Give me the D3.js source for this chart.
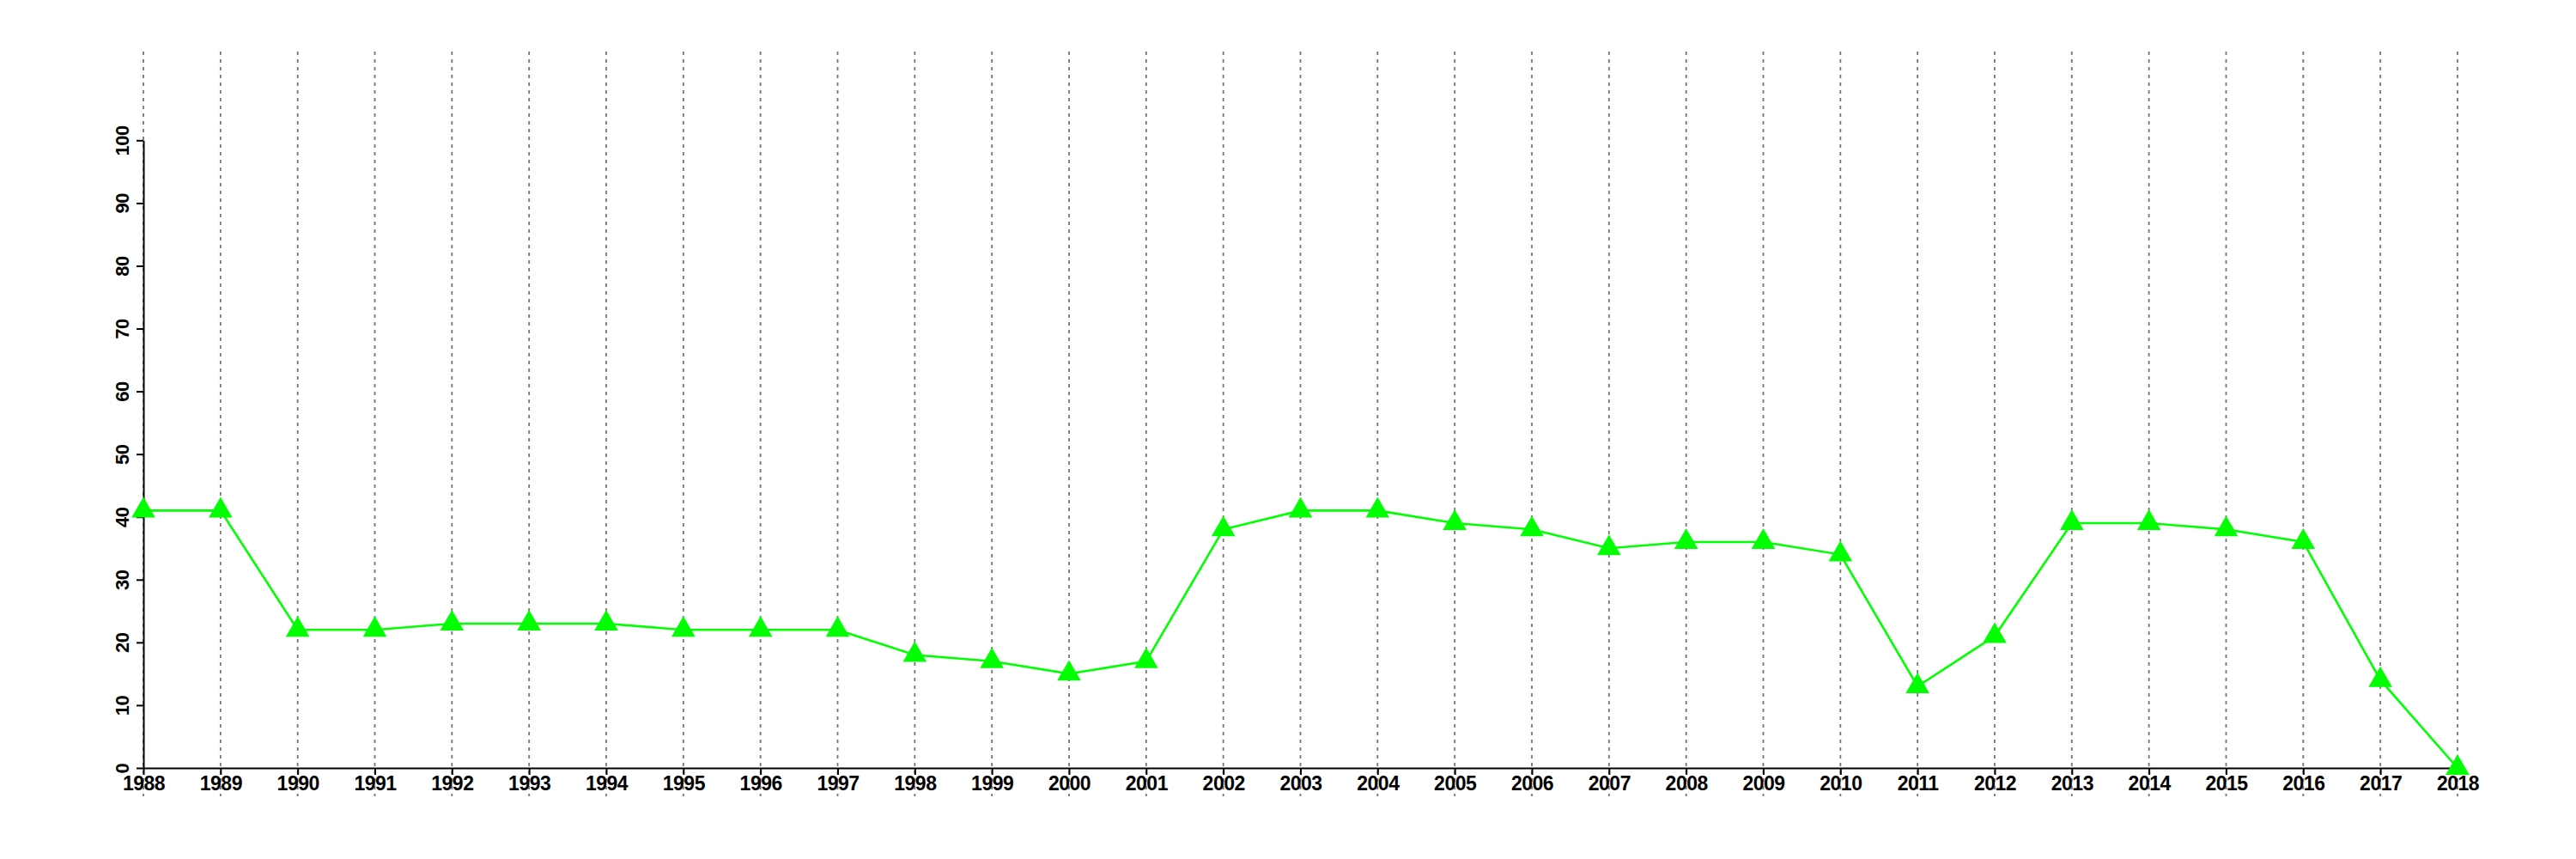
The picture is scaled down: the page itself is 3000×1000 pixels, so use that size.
<!DOCTYPE html>
<html>
<head>
<meta charset="utf-8">
<script src="https://cdn.jsdelivr.net/npm/d3@7"></script>
<style>
  html, body { margin: 0; padding: 0; background: #fff; }
  svg { display: block; }
  .tick text { font-family: "Liberation Sans", Arial, Helvetica, sans-serif; font-weight: bold; fill: #000; letter-spacing: -0.5px; }
  .xax .tick text { font-size: 23px; }
  .yax .tick text { font-size: 22px; }
</style>
</head>
<body>
<svg id="chart" width="3000" height="1000"></svg>
<script>
const years = [1988,1989,1990,1991,1992,1993,1994,1995,1996,1997,1998,1999,2000,2001,2002,2003,2004,2005,2006,2007,2008,2009,2010,2011,2012,2013,2014,2015,2016,2017,2018];
const values = [41,41,22,22,23,23,23,22,22,22,18,17,15,17,38,41,41,39,38,35,36,36,34,13,21,39,39,38,36,14,0];
const yTicks = [0,10,20,30,40,50,60,70,80,90,100];

const svg = d3.select("#chart");
const x = d3.scaleLinear().domain([1988, 2018]).range([167, 2862]);
const y = d3.scaleLinear().domain([0, 100]).range([894, 163.3]);

// vertical dotted grid lines
svg.append("g").selectAll("line").data(years).join("line")
  .attr("x1", d => x(d)).attr("x2", d => x(d))
  .attr("y1", 60).attr("y2", 927)
  .attr("stroke", "#777").attr("stroke-width", 1.8)
  .attr("stroke-dasharray", "4 5");

// y axis
const yAxis = svg.append("g").attr("class", "yax").attr("transform", `translate(${x(1988)},0)`)
  .call(d3.axisLeft(y).tickValues(yTicks).tickSize(8).tickSizeOuter(0).tickFormat(d3.format("d")));
yAxis.select(".domain").attr("stroke", "#000").attr("stroke-width", 2);
yAxis.selectAll(".tick line").attr("stroke", "#000").attr("stroke-width", 2);
yAxis.selectAll(".tick text")
  .attr("x", 0).attr("y", -17).attr("dy", 0)
  .attr("transform", "rotate(-90)")
  .attr("text-anchor", "middle");

// x axis
const xAxis = svg.append("g").attr("class", "xax").attr("transform", `translate(0,${y(0)})`)
  .call(d3.axisBottom(x).tickValues(years).tickSize(8).tickSizeOuter(0).tickFormat(d3.format("d")));
xAxis.select(".domain").attr("stroke", "#000").attr("stroke-width", 2);
xAxis.selectAll(".tick line").attr("stroke", "#000").attr("stroke-width", 2);
xAxis.selectAll(".tick text").attr("y", 25.5).attr("dy", 0).attr("text-anchor", "middle");

// line
const data = years.map((yr, i) => ({ yr, v: values[i] }));
svg.append("path").datum(data)
  .attr("fill", "none").attr("stroke", "#00ff00").attr("stroke-width", 2.6)
  .attr("d", d3.line().x(d => x(d.yr)).y(d => y(d.v)));

// triangle markers
svg.append("g").selectAll("path").data(data).join("path")
  .attr("transform", d => `translate(${x(d.yr)},${y(d.v)})`)
  .attr("d", d3.symbol(d3.symbolTriangle, 330))
  .attr("fill", "#00ff00");
</script>
</body>
</html>
